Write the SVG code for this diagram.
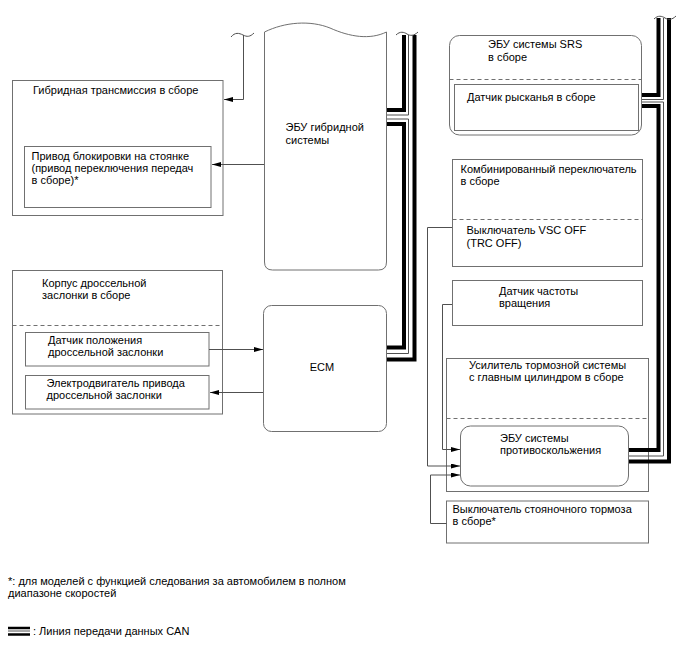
<svg xmlns="http://www.w3.org/2000/svg" width="688" height="658" viewBox="0 0 688 658">
<style>
.box{fill:#fff;stroke:#707070;stroke-width:1}
.dash{fill:none;stroke:#707070;stroke-width:1;stroke-dasharray:4 3}
.t{font-family:"Liberation Sans",Arial,sans-serif;font-size:11px;fill:#000}
.wire{fill:none;stroke:#505050;stroke-width:1}
.can{fill:none;stroke:#000;stroke-width:4}
.cant{fill:none;stroke:#505050;stroke-width:1}
.wave{fill:none;stroke:#505050;stroke-width:1}
</style>
<defs>
<marker id="arr" markerUnits="userSpaceOnUse" markerWidth="9" markerHeight="5" refX="9" refY="2.5" orient="auto">
<path d="M0,0 L9,2.5 L0,5 z" fill="#000"/>
</marker>
</defs>
<rect width="688" height="658" fill="#fff"/>

<g id="hybrid-transmission">
<rect class="box" x="12.5" y="80.5" width="210.5" height="135"/>
<text class="t" x="33" y="94">Гибридная трансмиссия в сборе</text>
</g>
<g id="parking-lock-actuator">
<rect class="box" x="24.5" y="146.5" width="186.5" height="61"/>
<text class="t" x="31.5" y="159.5">Привод блокировки на стоянке</text>
<text class="t" x="31.5" y="171.5">(привод переключения передач</text>
<text class="t" x="31.5" y="183.5">в сборе)*</text>
</g>
<g id="hybrid-ecu">
<path class="box" d="M264.5,32 C285,22 310,20 330,28 C350,37 370,40 386.5,32 V262 Q386.5,270 378.5,270 H272.5 Q264.5,270 264.5,262 Z"/>
<text class="t" x="285.5" y="131">ЭБУ гибридной</text>
<text class="t" x="285.5" y="144">системы</text>
</g>
<g id="throttle-body">
<rect class="box" x="12.5" y="270.5" width="210" height="143.5"/>
<text class="t" x="42" y="287">Корпус дроссельной</text>
<text class="t" x="42" y="299">заслонки в сборе</text>
<line class="dash" x1="12.5" y1="325.5" x2="222.5" y2="325.5"/>
</g>
<g id="throttle-position-sensor">
<rect class="box" x="25.5" y="332.5" width="183.5" height="33.5"/>
<text class="t" x="48" y="343.5">Датчик положения</text>
<text class="t" x="48" y="355.5">дроссельной заслонки</text>
</g>
<g id="throttle-motor">
<rect class="box" x="25.5" y="375.5" width="183.5" height="33.5"/>
<text class="t" x="46.5" y="387">Электродвигатель привода</text>
<text class="t" x="46.5" y="399">дроссельной заслонки</text>
</g>
<g id="ecm">
<rect class="box" x="263.5" y="305.5" width="123" height="126" rx="8"/>
<text class="t" x="322" y="371" text-anchor="middle">ECM</text>
</g>
<g id="srs-ecu">
<rect class="box" x="449.5" y="35.5" width="192" height="99.5" rx="10"/>
<text class="t" x="488" y="48">ЭБУ системы SRS</text>
<text class="t" x="488" y="61">в сборе</text>
<line class="dash" x1="449.5" y1="79.5" x2="641.5" y2="79.5"/>
</g>
<g id="yaw-rate-sensor">
<rect class="box" x="454.5" y="84.5" width="184" height="46"/>
<text class="t" x="467" y="100.5">Датчик рысканья в сборе</text>
</g>
<g id="combination-switch">
<rect class="box" x="452.5" y="159.5" width="190" height="107"/>
<text class="t" x="460.5" y="172.5">Комбинированный переключатель</text>
<text class="t" x="460.5" y="184.5">в сборе</text>
<line class="dash" x1="452.5" y1="219.5" x2="642.5" y2="219.5"/>
<text class="t" x="466.5" y="234">Выключатель VSC OFF</text>
<text class="t" x="466.5" y="246.5">(TRC OFF)</text>
</g>
<g id="speed-sensor">
<rect class="box" x="452.5" y="280.5" width="190" height="45"/>
<text class="t" x="499" y="295">Датчик частоты</text>
<text class="t" x="499" y="307">вращения</text>
</g>
<g id="brake-booster">
<rect class="box" x="446.5" y="358.5" width="202" height="133"/>
<text class="t" x="469" y="368.5">Усилитель тормозной системы</text>
<text class="t" x="469" y="380.5">с главным цилиндром в сборе</text>
<line class="dash" x1="446.5" y1="418.5" x2="648.5" y2="418.5"/>
</g>
<g id="skid-control-ecu">
<rect class="box" x="460.5" y="426" width="168" height="60" rx="10"/>
<text class="t" x="500" y="441.5">ЭБУ системы</text>
<text class="t" x="500" y="453.5">противоскольжения</text>
</g>
<g id="parking-brake-switch">
<rect class="box" x="446.5" y="501" width="202" height="42"/>
<text class="t" x="452.5" y="512.5">Выключатель стояночного тормоза</text>
<text class="t" x="452.5" y="524.5">в сборе*</text>
</g>

<g id="connectors">
<path class="wave" d="M231,37 C235,32 239,33 243,35 S250,37 254,33"/>
<path class="wire" d="M243.5,35 V99.5 H224" marker-end="url(#arr)"/>
<path class="wire" d="M264,164.5 H212" marker-end="url(#arr)"/>
<path class="wire" d="M209,349.5 H263" marker-end="url(#arr)"/>
<path class="wire" d="M263,392.5 H210" marker-end="url(#arr)"/>
<path class="wire" d="M452,304.5 H442.5 V449.5 H460" marker-end="url(#arr)"/>
<path class="wire" d="M452,227.5 H427.5 V466 H460" marker-end="url(#arr)"/>
<path class="wire" d="M446.5,523.5 H430.5 V475 H460" marker-end="url(#arr)"/>

<!-- left CAN bus -->
<path class="can" d="M387,110 H404 V35"/>
<path class="can" d="M387,124 H404 V347.5 H387"/>
<path class="can" d="M414.5,35 V359.5 H387"/>
<path class="cant" d="M387,115 H408.5 V35"/>
<path class="cant" d="M387,119 H408.5 V353.5 H387"/>
<path class="wave" d="M396,35 C400,31 404,32 407,34 S414,36 418,32"/>

<!-- right CAN bus -->
<path class="can" d="M642,95 H658.5 V18"/>
<path class="can" d="M642,106 H658.5 V450 H629"/>
<path class="can" d="M669,18 V461.5 H629"/>
<path class="cant" d="M642,99.5 H663.5 V18"/>
<path class="cant" d="M642,102 H663.5 V456 H629"/>
<path class="wave" d="M654,19 C658,15 662,16 665,18 S672,20 676,16"/>
</g>

<g id="legend">
<text class="t" x="8" y="585">*: для моделей с функцией следования за автомобилем в полном</text>
<text class="t" x="8" y="597">диапазоне скоростей</text>
<line x1="8" y1="628" x2="30" y2="628" stroke="#000" stroke-width="2.5"/>
<line x1="8" y1="631" x2="30" y2="631" stroke="#505050" stroke-width="1"/>
<line x1="8" y1="634.5" x2="30" y2="634.5" stroke="#000" stroke-width="2.5"/>
<text class="t" x="33" y="635">: Линия передачи данных CAN</text>
</g>
</svg>
